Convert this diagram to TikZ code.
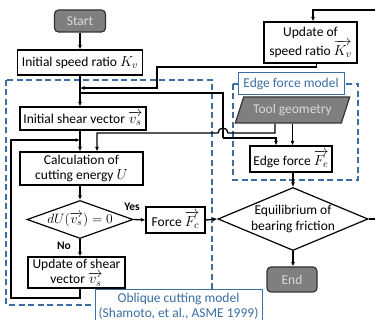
\RequirePackage{fix-cm}
\documentclass[tikz,border=0pt]{standalone}
\usepackage{fontspec}
\setmainfont{Carlito}
\usepackage{amsmath}
\usepackage{xcolor}
\usetikzlibrary{arrows.meta,shapes.geometric,positioning}
\definecolor{modelblue}{HTML}{3B6EA5}
\definecolor{termgray}{HTML}{7F7F7F}
\DeclareMathSizes{13.5}{14.5}{10.5}{8}
\DeclareMathSizes{12}{13.5}{9.5}{7}

\begin{document}
\begin{tikzpicture}[x=1pt, y=-1pt,
		every node/.style={font=\fontsize{13.5}{15.5}\selectfont, inner sep=0pt},
		procbox/.style={draw=black, line width=1.2pt, fill=white, align=center},
		termbox/.style={draw=black!80, line width=1.2pt, fill=termgray, text=black!15, rounded corners=4pt},
		decbox/.style={diamond, draw=black, line width=1.2pt, fill=white, align=center},
		modelbox/.style={draw=modelblue, line width=1.6pt, dash pattern=on 6pt off 3.5pt},
		modeltag/.style={draw=modelblue, line width=1pt, fill=white, text=modelblue, align=center},
		flow/.style={line width=1.3pt, -{Latex[length=4.5pt,width=4pt]}},
		plain/.style={line width=1.3pt},
		answer/.style={font=\fontsize{11.5}{13}\selectfont\bfseries}]
	\useasboundingbox (0,0) rectangle (375,320);
	\clip (0,0) rectangle (375,320);

	% model frames
	\draw[modelbox] (6,80) rectangle (212,305);
	\draw[modelbox] (233,84) rectangle (358,180);

	% left column
	\node[termbox, minimum width=51pt, minimum height=22pt] (start) at (80,21) {Start};
	\node[procbox, minimum width=125pt, minimum height=25pt] (kvinit) at (80,62.5) {Initial speed ratio $K_v$};
	\node[procbox, minimum width=126pt, minimum height=23pt] (shearinit) at (83,118.5) {Initial shear vector $\overrightarrow{v_s}$};
	\node[procbox, minimum width=123pt, minimum height=33pt] (calc) at (81.5,168.5) {Calculation of\\cutting energy $U$};
	\node[decbox, aspect=2.8, minimum width=106pt, minimum height=38pt, font=\fontsize{12}{14}\selectfont] (dudec) at (80,219.5) {$dU(\overrightarrow{v_s})=0$};
	\node[procbox, minimum width=59pt, minimum height=26pt] (forcec) at (175.5,220) {Force $\overrightarrow{F_c}$};
	\node[procbox, minimum width=97pt, minimum height=31pt] (shearupd) at (76.5,272.5) {Update of shear\\vector $\overrightarrow{v_s}$};
	\node[answer] (yes) at (132,207) {Yes};
	\node[answer] (no) at (64,246) {No};
	\node[modeltag, minimum width=167pt, minimum height=32pt] (obliquetag) at (178.5,306) {Oblique cutting model\\(Shamoto, et al., ASME 1999)};

	% right column
	\node[procbox, minimum width=93pt, minimum height=41pt] (kvupd) at (310.5,42.5) {Update of\\speed ratio $\overrightarrow{K_v}$};
	\node[modeltag, minimum width=106pt, minimum height=22pt] (edgetag) at (291,84) {Edge force model};
	\node[trapezium, trapezium left angle=60, trapezium right angle=120, trapezium stretches=true,
		draw=black!80, line width=1.2pt, fill=termgray, text=black!15,
		minimum width=115pt, minimum height=26pt] (tool) at (292.5,110) {Tool geometry};
	\node[procbox, minimum width=82pt, minimum height=26pt] (edgef) at (291,159) {Edge force $\overrightarrow{F_e}$};
	\node[decbox, aspect=2.4, minimum width=150pt, minimum height=63pt] (equil) at (293,219) {Equilibrium of\\bearing friction};
	\node[termbox, minimum width=50pt, minimum height=25pt] (endnode) at (292,279.5) {End};

	\coordinate (fb) at (80,88);
	\coordinate (br) at (80,93);
	\coordinate (kvjog) at (223,138);
	\coordinate (hump) at (228,133);
	\coordinate (loopbot) at (11,298);
	\coordinate (loopin) at (80,140);
	\coordinate (rtop) at (382,10);

	\draw[flow] (start) -- (kvinit);
	\draw[flow] (kvinit.south) -- (kvinit.south |- shearinit.north);
	\draw[flow] ([xshift=6pt]kvupd.south) |- (157,67) |- (fb);
	\draw[plain] (br) -| (kvjog);
	\draw[flow] (kvjog) -| ([xshift=-15pt]edgef.north);
	\draw[flow] (tool.south) -- (tool.south |- edgef.north);
	\draw[flow] ([xshift=-17.5pt]tool.south) |- (hump) arc[start angle=0, end angle=-180, radius=5] -| ([xshift=15.5pt]calc.north);
	\draw[flow] (kvinit.south |- shearinit.south) -- (kvinit.south |- calc.north);
	\draw[flow] (dudec.south |- shearupd.south) |- (loopbot) |- (loopin);
	\draw[flow] (dudec |- calc.south) -- (dudec.north);
	\draw[flow] (dudec.east) -- (forcec.west);
	\draw[flow] (dudec.south) -- (dudec.south |- shearupd.north);
	\draw[flow] (forcec.east) -- (equil.west);
	\draw[flow] (equil.north |- edgef.south) -- (equil.north);
	\draw[flow] (equil.south) -- (equil.south |- endnode.north);
	\draw[flow] (equil.east) -| (rtop) -| ([xshift=2.5pt]kvupd.north);

\end{tikzpicture}
\end{document}
